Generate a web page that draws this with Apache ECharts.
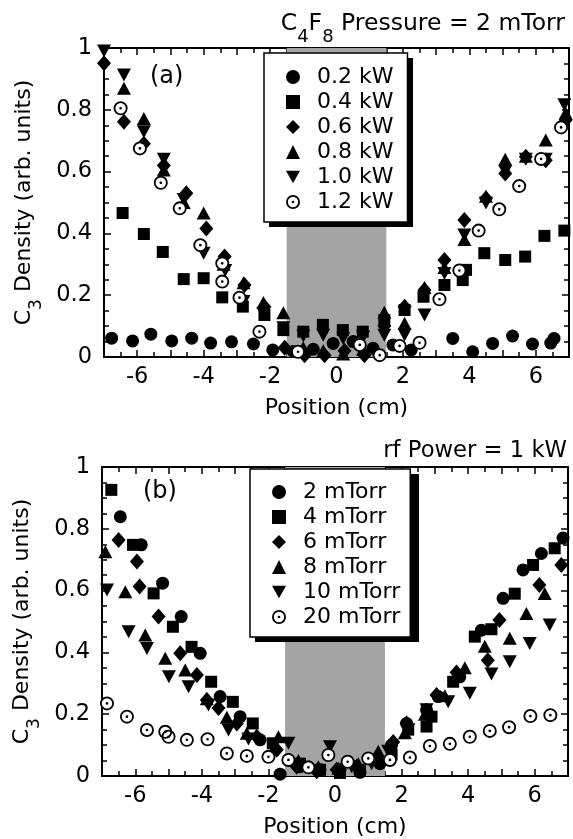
<!DOCTYPE html>
<html>
<head>
<meta charset="utf-8">
<script src="https://cdn.jsdelivr.net/npm/echarts@6/dist/echarts.min.js"></script>
<style>
  html, body { margin: 0; padding: 0; background: #fff; }
  #chart { width: 573px; height: 839px; }
</style>
</head>
<body>
<div id="chart"></div>
<script>
// panel (a): C4F8 pressure 2 mTorr, different rf powers  [position cm, density]
const a_02kW = [[-6.77,0.061],[-6.14,0.052],[-5.59,0.074],[-4.96,0.052],[-4.36,0.061],[-3.79,0.045],[-3.16,0.049],[-2.50,0.042],[-1.92,0.023],[-1.30,0.018],[-0.70,0.025],[-0.10,0.044],[0.50,0.050],[1.10,0.028],[1.70,0.039],[2.25,0.023],[3.50,0.060],[4.10,0.017],[4.70,0.044],[5.30,0.068],[5.90,0.042],[6.45,0.045],[6.55,0.060]];
const a_04kW = [[-6.44,0.466],[-5.80,0.398],[-5.23,0.340],[-4.60,0.252],[-4.00,0.255],[-3.44,0.193],[-2.82,0.163],[-2.17,0.136],[-1.60,0.087],[-1.00,0.082],[-0.41,0.104],[0.19,0.087],[0.79,0.082],[1.44,0.120],[2.05,0.152],[2.62,0.195],[3.25,0.233],[3.80,0.249],[3.90,0.282],[4.45,0.336],[5.08,0.314],[5.68,0.325],[6.26,0.392],[6.86,0.409]];
const a_06kW = [[-7.00,0.951],[-6.40,0.761],[-5.80,0.690],[-5.20,0.620],[-4.52,0.530],[-3.92,0.416],[-3.37,0.325],[-2.77,0.233],[-2.17,0.163],[-1.56,0.030],[-0.96,0.006],[-0.36,0.006],[0.24,0.020],[0.84,0.006],[1.44,0.100],[2.05,0.163],[2.65,0.217],[3.25,0.314],[3.85,0.443],[4.50,0.513],[5.08,0.594],[5.70,0.648],[6.30,0.637],[6.90,0.767]];
const a_08kW = [[-6.40,0.870],[-5.80,0.772],[-5.20,0.605],[-4.60,0.500],[-4.00,0.466],[-3.40,0.300],[-2.80,0.240],[-2.20,0.176],[-1.60,0.143],[-1.00,0.030],[-0.40,0.020],[0.20,0.010],[0.80,0.025],[1.44,0.145],[2.05,0.109],[2.65,0.225],[3.25,0.290],[3.85,0.380],[4.50,0.520],[5.08,0.640],[5.70,0.650],[6.30,0.702],[6.90,0.790]];
const a_10kW = [[-7.00,0.990],[-6.40,0.913],[-5.80,0.729],[-5.20,0.640],[-4.60,0.510],[-4.00,0.336],[-3.35,0.280],[-2.80,0.180],[-2.20,0.140],[-1.60,0.095],[-1.00,0.068],[-0.40,0.070],[0.20,0.060],[0.80,0.065],[1.44,0.070],[2.05,0.071],[2.65,0.136],[3.25,0.270],[3.85,0.395],[4.50,0.498],[5.08,0.600],[5.70,0.640],[6.30,0.640],[6.86,0.816]];
const a_12kW = [[-6.50,0.805],[-5.92,0.675],[-5.29,0.564],[-4.72,0.481],[-4.10,0.362],[-3.44,0.303],[-3.44,0.244],[-2.92,0.192],[-2.32,0.082],[-1.16,0.017],[0.70,0.039],[1.30,0.006],[1.90,0.036],[2.50,0.046],[3.10,0.187],[3.70,0.280],[4.28,0.409],[4.90,0.478],[5.50,0.553],[6.16,0.641],[6.76,0.743]];

// panel (b): rf power 1 kW, different pressures
const b_2mT = [[-7.05,0.947],[-6.45,0.839],[-5.82,0.748],[-5.18,0.624],[-4.62,0.516],[-4.05,0.397],[-3.45,0.257],[-2.85,0.192],[-2.25,0.117],[-1.65,0.006],[-1.05,0.030],[-0.45,0.020],[0.15,0.020],[0.75,0.012],[1.35,0.040],[1.70,0.100],[2.15,0.170],[2.75,0.214],[3.10,0.257],[3.75,0.321],[4.40,0.472],[5.05,0.575],[5.65,0.667],[6.20,0.720],[6.85,0.770]];
const b_4mT = [[-6.72,0.926],[-6.07,0.748],[-5.45,0.591],[-4.87,0.483],[-4.31,0.418],[-3.72,0.305],[-3.07,0.240],[-2.47,0.170],[-1.87,0.106],[-1.05,0.040],[-0.45,0.020],[0.15,0.010],[0.75,0.020],[1.25,0.052],[1.70,0.070],[2.20,0.150],[2.75,0.160],[2.90,0.192],[3.55,0.305],[4.20,0.451],[4.70,0.475],[5.40,0.590],[5.95,0.683],[6.60,0.737]];
const b_6mT = [[-6.50,0.764],[-5.95,0.694],[-5.87,0.613],[-5.30,0.516],[-4.65,0.397],[-4.15,0.327],[-3.85,0.246],[-3.50,0.220],[-2.95,0.170],[-2.35,0.127],[-1.75,0.085],[-1.15,0.030],[-0.55,0.015],[0.05,0.020],[0.65,0.030],[1.25,0.060],[1.75,0.110],[2.15,0.170],[3.05,0.262],[3.65,0.335],[4.59,0.375],[4.94,0.505],[6.14,0.618],[6.80,0.683]];
const b_8mT = [[-6.90,0.726],[-6.30,0.596],[-5.70,0.456],[-5.10,0.381],[-4.50,0.343],[-3.85,0.250],[-3.25,0.190],[-2.65,0.138],[-1.70,0.127],[-1.10,0.050],[-0.50,0.030],[0.10,0.025],[0.70,0.040],[1.30,0.080],[2.10,0.140],[2.70,0.200],[3.30,0.260],[3.90,0.350],[4.50,0.420],[5.25,0.446],[5.75,0.526],[6.30,0.591]];
const b_10mT = [[-6.85,0.602],[-6.20,0.467],[-5.65,0.413],[-4.99,0.321],[-4.40,0.289],[-3.80,0.230],[-3.20,0.149],[-2.60,0.120],[-1.40,0.106],[-0.15,0.095],[0.50,0.030],[1.10,0.040],[1.60,0.080],[2.20,0.150],[2.75,0.214],[3.40,0.240],[4.05,0.268],[4.70,0.330],[5.25,0.370],[5.85,0.429],[6.45,0.489]];
const b_20mT = [[-6.85,0.235],[-6.25,0.192],[-5.65,0.149],[-5.10,0.143],[-5.00,0.127],[-4.45,0.117],[-3.83,0.119],[-3.25,0.073],[-2.65,0.065],[-2.00,0.062],[-1.40,0.052],[-0.80,0.028],[-0.20,0.068],[0.38,0.046],[1.00,0.057],[1.65,0.052],[2.25,0.060],[2.85,0.097],[3.45,0.104],[4.05,0.127],[4.65,0.146],[5.23,0.158],[5.87,0.194],[6.47,0.197]];

const namesA = ['0.2 kW', '0.4 kW', '0.6 kW', '0.8 kW', '1.0 kW', '1.2 kW'];
const namesB = ['2 mTorr', '4 mTorr', '6 mTorr', '8 mTorr', '10 mTorr', '20 mTorr'];
const shadedRegion = [-1.5, 1.5];

const FONT = 'DejaVu Sans';
const DOWN = 'path://M0,0L20,0L10,18Z';
const RING = 'path://M0,-10A10,10,0,1,1,0,10A10,10,0,1,1,0,-10ZM0,-7.4A7.4,7.4,0,1,0,0,7.4A7.4,7.4,0,1,0,0,-7.4ZM0,-1.9A1.9,1.9,0,1,1,0,1.9A1.9,1.9,0,1,1,0,-1.9Z';
const marks = [
  {symbol: 'circle', size: 13},
  {symbol: 'rect', size: 12},
  {symbol: 'diamond', size: [14, 16]},
  {symbol: 'triangle', size: [14, 13]},
  {symbol: DOWN, size: [14, 13]},
  {symbol: RING, size: 14}
];

const rich = {
  n: {fontSize: 22, fontWeight: 'normal', fontFamily: FONT, color: '#000'},
  s: {fontSize: 17, fontWeight: 'normal', fontFamily: FONT, color: '#000', padding: [26, 0, 0, 0]}
};
const titleRich = {
  n: {fontSize: 23.5, fontWeight: 'normal', fontFamily: FONT, color: '#000'},
  s: {fontSize: 18, fontWeight: 'normal', fontFamily: FONT, color: '#000', padding: [26, 0, 0, 0]}
};
const tickStyle = {color: '#000', width: 1.5};

function xAxes(g) {
  const common = {
    gridIndex: g, type: 'value', min: -7, max: 7, interval: 1,
    axisLine: {onZero: false, lineStyle: {color: '#000', width: 2}},
    axisTick: {inside: true, length: 7, lineStyle: tickStyle},
    minorTick: {show: true, splitNumber: 2, length: 5, lineStyle: tickStyle},
    splitLine: {show: false}
  };
  return [
    Object.assign({}, common, {
      position: 'bottom',
      name: 'Position (cm)', nameLocation: 'middle', nameGap: 40,
      nameTextStyle: {fontSize: 22, fontFamily: FONT, color: '#000'},
      axisLabel: {
        margin: 9, fontSize: 22.5, fontFamily: FONT, color: '#000',
        formatter: v => (Math.round(v) % 2 === 0 ? String(Math.round(v)) : '')
      }
    }),
    Object.assign({}, common, {position: 'top', axisLabel: {show: false}})
  ];
}

function yAxes(g) {
  const common = {
    gridIndex: g, type: 'value', min: 0, max: 1, interval: 0.2,
    axisLine: {onZero: false, lineStyle: {color: '#000', width: 2}},
    axisTick: {inside: true, length: 7, lineStyle: tickStyle},
    minorTick: {show: true, splitNumber: 4, length: 5, lineStyle: tickStyle},
    splitLine: {show: false}
  };
  return [
    Object.assign({}, common, {
      position: 'left',
      name: '{n|C}{s|3}{n| Density (arb. units)}', nameLocation: 'middle', nameGap: 58,
      nameTextStyle: {fontSize: 22, fontFamily: FONT, color: '#000', rich: rich},
      axisLabel: {margin: 12, fontSize: 22.5, fontFamily: FONT, color: '#000'}
    }),
    Object.assign({}, common, {position: 'right', axisLabel: {show: false}})
  ];
}

function panelSeries(g, names, sets) {
  const xi = g * 2, yi = g * 2;
  const out = [{
    type: 'scatter', name: 'region' + g, xAxisIndex: xi, yAxisIndex: yi, data: [], z: 1,
    markArea: {
      silent: true,
      itemStyle: {color: '#a4a4a4'},
      data: [[{xAxis: shadedRegion[0], yAxis: 0}, {xAxis: shadedRegion[1], yAxis: 1}]]
    }
  }];
  sets.forEach((d, i) => {
    if (i === 5) {
      out.push({
        type: 'scatter', name: names[i] + ' fill', xAxisIndex: xi, yAxisIndex: yi,
        data: d, symbol: 'circle', symbolSize: 13, z: 3,
        itemStyle: {color: '#fff', opacity: 1}
      });
    }
    out.push({
      type: 'scatter', name: names[i], xAxisIndex: xi, yAxisIndex: yi,
      data: d, symbol: marks[i].symbol, symbolSize: marks[i].size, z: 3,
      itemStyle: {color: '#000', opacity: 1}
    });
  });
  return out;
}

function legendFor(names, left, top, padRight, padTop) {
  return {
    data: names, orient: 'vertical', left: left, top: top, z: 10,
    itemWidth: 14, itemHeight: 14, itemGap: 3, selectedMode: false,
    padding: [padTop, padRight, 9, 22],
    backgroundColor: '#fff', borderColor: '#000', borderWidth: 1.5,
    textStyle: {fontSize: 22, fontFamily: FONT, color: '#000', padding: [0, 0, 0, 12]}
  };
}

const chart = echarts.init(document.getElementById('chart'));
chart.setOption({
  backgroundColor: '#fff',
  animation: false,
  title: [
    {text: '{n|C}{s|4}{n|F}{s|8}{n| Pressure = 2 mTorr}', right: 8, top: 2, padding: 0,
      textStyle: {fontWeight: 'normal', rich: titleRich}},
    {text: 'rf Power = 1 kW', right: 6, top: 440, padding: 0,
      textStyle: {fontSize: 22.7, fontWeight: 'normal', fontFamily: FONT, color: '#000'}},
    {text: '(a)', left: 150, top: 65, padding: 0,
      textStyle: {fontSize: 24, fontWeight: 'normal', fontFamily: FONT, color: '#000'}},
    {text: '(b)', left: 143, top: 480, padding: 0,
      textStyle: {fontSize: 24, fontWeight: 'normal', fontFamily: FONT, color: '#000'}}
  ],
  grid: [
    {left: 104, top: 48, width: 465, height: 309, outerBoundsMode: 'none'},
    {left: 102, top: 467, width: 466, height: 309, outerBoundsMode: 'none'}
  ],
  xAxis: xAxes(0).concat(xAxes(1)),
  yAxis: yAxes(0).concat(yAxes(1)),
  legend: [legendFor(namesA, 264, 53, 14, 13), legendFor(namesB, 250, 469, 10, 12)],
  // drop shadows behind the two legend boxes (thick right/bottom edge)
  graphic: {
    elements: [
      {type: 'rect', z: 8, left: 269, top: 58, shape: {width: 144, height: 169}, style: {fill: '#000'}},
      {type: 'rect', z: 8, left: 255, top: 474, shape: {width: 164, height: 168}, style: {fill: '#000'}}
    ]
  },
  series: panelSeries(0, namesA, [a_02kW, a_04kW, a_06kW, a_08kW, a_10kW, a_12kW])
    .concat(panelSeries(1, namesB, [b_2mT, b_4mT, b_6mT, b_8mT, b_10mT, b_20mT]))
});
</script>
</body>
</html>
